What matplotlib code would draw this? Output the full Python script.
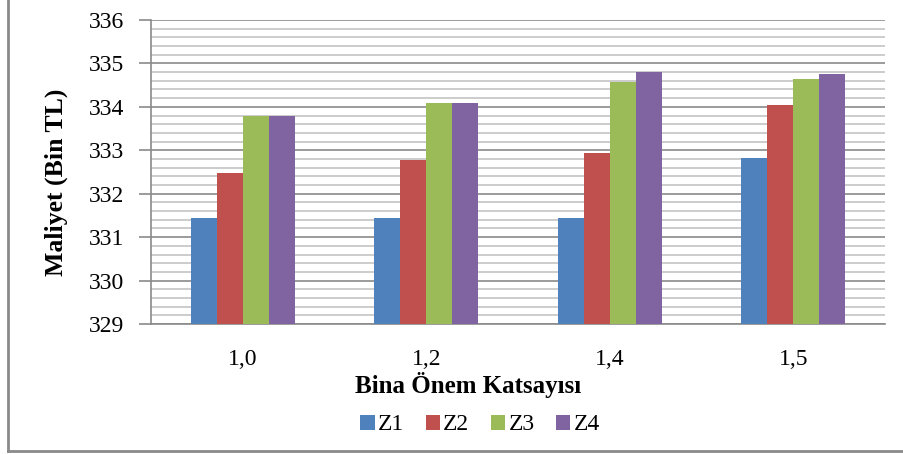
import matplotlib
matplotlib.use("Agg")
import matplotlib.pyplot as plt
import numpy as np
from matplotlib.lines import Line2D
from matplotlib.ticker import MultipleLocator

categories = ["1,0", "1,2", "1,4", "1,5"]
series_names = ["Z1", "Z2", "Z3", "Z4"]
z1 = [331.45, 331.45, 331.45, 332.83]
z2 = [332.47, 332.78, 332.93, 334.05]
z3 = [333.80, 334.09, 334.58, 334.65]
z4 = [333.80, 334.09, 334.80, 334.75]
colors = ["#4F81BD", "#C0504D", "#9BBB59", "#8064A2"]

plt.rcParams['font.family'] = ['Liberation Serif', 'DejaVu Serif']

W, H = 904, 454
fig = plt.figure(figsize=(W / 100, H / 100), dpi=100)
ax = fig.add_axes([151 / W, (H - 324) / H, 734 / W, 304 / H])

x = np.arange(len(categories))
bw = 0.142
data = [z1, z2, z3, z4]
for i, (vals, c, name) in enumerate(zip(data, colors, series_names)):
    ax.bar(x + (i - 1.5) * bw, np.array(vals) - 329, bottom=329, width=bw,
           color=c, label=name, zorder=3)

ax.set_xlim(-0.5, len(categories) - 0.5)
ax.set_ylim(329, 336)
ax.yaxis.set_major_locator(MultipleLocator(1))
ax.yaxis.set_minor_locator(MultipleLocator(0.2))
ax.grid(axis='y', which='major', color='#8a8a8a', linewidth=1.2, zorder=0)
ax.grid(axis='y', which='minor', color='#c4c4c4', linewidth=1.2, zorder=0)
ax.set_axisbelow(True)

for s in ['top', 'right']:
    ax.spines[s].set_visible(False)
ax.spines['left'].set_color('#8a8a8a')
ax.spines['bottom'].set_color('#8a8a8a')
ax.spines['left'].set_linewidth(1.2)
ax.spines['bottom'].set_linewidth(1.2)

ax.set_xticks(x)
ax.set_xticklabels(categories, fontsize=17)
ax.tick_params(axis='x', length=0, pad=18)
ax.tick_params(axis='y', which='major', length=9, color='#8a8a8a', width=1.2,
               labelsize=17, pad=10)
ax.tick_params(axis='y', which='minor', length=0)

fig.text(468 / W, 1 - 385 / H, "Bina Önem Katsayısı", ha='center', va='center',
         fontsize=18, fontweight='bold')
fig.text(56 / W, 1 - 182 / H, "Maliyet (Bin TL)", ha='center', va='center',
         rotation=90, fontsize=18.5, fontweight='bold')

handles, labels = ax.get_legend_handles_labels()
fig.legend(handles, labels, loc='center', bbox_to_anchor=(480 / W, 1 - 425 / H),
           ncol=4, frameon=False, fontsize=17, handlelength=0.6, handleheight=0.6,
           handletextpad=0.15, columnspacing=0.9)

# outer chart border (left and bottom visible)
fig.add_artist(Line2D([7.5 / W, 7.5 / W], [1 - 451 / H, 1], transform=fig.transFigure,
                      color='#8a8a8a', linewidth=2))
fig.add_artist(Line2D([7.5 / W, 1], [1 - 451 / H, 1 - 451 / H], transform=fig.transFigure,
                      color='#8a8a8a', linewidth=2))

fig.savefig("out.png", dpi=100)
